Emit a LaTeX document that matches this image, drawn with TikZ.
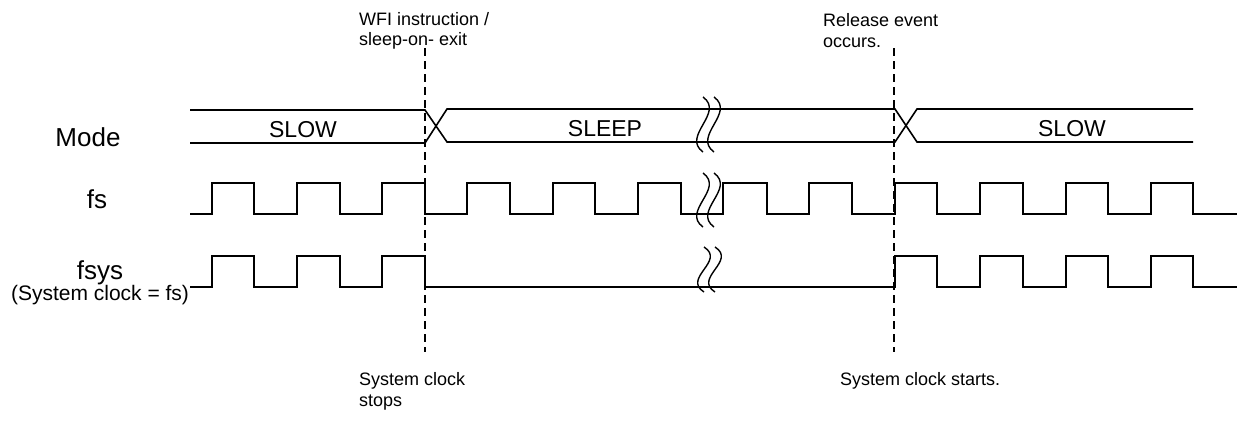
\documentclass[tikz,border=0pt]{standalone}
\usepackage{fontspec}
\setmainfont{Liberation Sans}
\begin{document}
\begin{tikzpicture}[x=1pt,y=-1pt,
  sig/.style={line width=1.6pt, line join=miter},
  guide/.style={line width=1.4pt, dash pattern=on 8pt off 5pt},
  brk/.style={line width=1.4pt},
  lab/.style={inner sep=0pt, anchor=base, font=\fontsize{26}{30}\selectfont},
  buslab/.style={inner sep=0pt, anchor=base, font=\fontsize{23}{27}\selectfont},
  note/.style={inner sep=0pt, anchor=base west, font=\fontsize{18}{22}\selectfont},
  small/.style={inner sep=0pt, anchor=base, font=\fontsize{21}{25}\selectfont}]
\useasboundingbox (0,0) rectangle (1238,423);

% guide lines
\coordinate (g1t) at (425,48); \coordinate (g1b) at (425,352);
\coordinate (g2t) at (894,48); \coordinate (g2b) at (894,352);
\draw[guide] (g1t) -- (g1b);
\draw[guide] (g2t) -- (g2b);

% Mode bus
\draw[sig] (190,110) -- (425,110) -- (447,142) -- (895,142) -- (917,109) -- (1193,109);
\draw[sig] (190,143) -- (425,143) -- (447,109) -- (895,109) -- (917,142) -- (1193,142);

% fs
\draw[sig] (190,214) foreach \r/\f in {212/254,297/340,382/425,467/510,553/595,638/681,723/767,809/852,895/937,980/1023,1066/1108,1151/1193} { -- (\r,214) -- (\r,183) -- (\f,183) -- (\f,214) } -- (1237,214);

% fsys
\draw[sig] (190,287) foreach \r/\f in {212/254,297/340,382/425,895/937,980/1023,1066/1108,1151/1193} { -- (\r,287) -- (\r,256) -- (\f,256) -- (\f,287) } -- (1237,287);

% breaks
\foreach \bx in {703,714} {
  \draw[brk] (\bx,97) .. controls (\bx+22,113) and (\bx-22,136) .. (\bx,152);
  \draw[brk] (\bx,173) .. controls (\bx+22,189) and (\bx-22,211) .. (\bx,227);
  \draw[brk] (\bx+1,247) .. controls (\bx+23,261) and (\bx-21,278) .. (\bx+1,292);
}

% labels
\node[lab] (mode) at (88,146) {Mode};
\node[lab] (fs) at (97,208) {fs};
\node[lab] (fsys) at (100,279) {fsys};
\node[small] (fsysnote) at (100,300) {(System clock = fs)};
\node[buslab] (slow1) at (303,137) {SLOW};
\node[buslab] (sleep) at (605,136) {SLEEP};
\node[buslab] (slow2) at (1072,136) {SLOW};

\node[note] (wfi1) at (359,25) {WFI instruction /};
\node[note] (wfi2) at (359,45) {sleep-on- exit};
\node[note] (rel1) at (823,27) {Release event};
\node[note] (rel2) at (823,47) {occurs.};
\node[note] (stop1) at (359,385) {System clock};
\node[note] (stop2) at (359,406) {stops};
\node[note] (start1) at (840,385) {System clock starts.};
\end{tikzpicture}
\end{document}
